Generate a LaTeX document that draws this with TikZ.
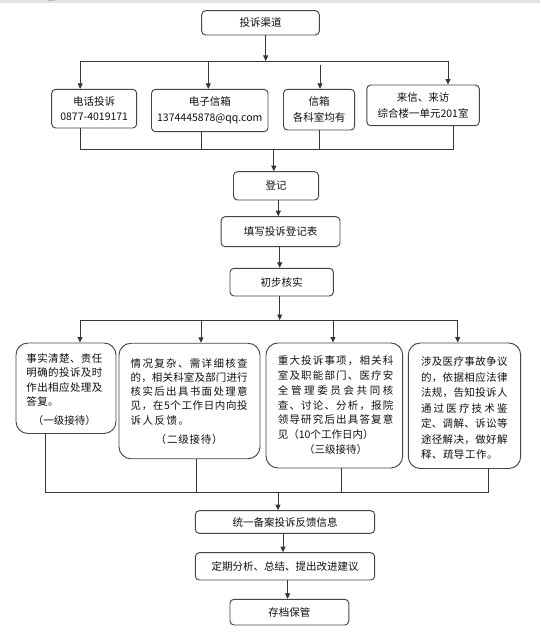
\documentclass[tikz,border=0pt]{standalone}
\usepackage{fontspec}
\setmainfont{Noto Sans CJK SC}
\usetikzlibrary{arrows.meta}
\makeatletter
\newcommand\spr[2]{\hbox to #1{\@tfor\sprx:=#2\do{\sprx\hfil}\unskip}}
\newcommand\lsp[2]{\hbox{\@tfor\sprx:=#2\do{\sprx\kern#1}\unkern}}
\newcommand\stk[2]{\vbox{\baselineskip=#1\lineskiplimit=-20pt\lineskip=0pt #2}}
\makeatother
\definecolor{bd}{HTML}{454545}
\definecolor{lnc}{HTML}{363636}
\definecolor{txc}{HTML}{101010}
\tikzset{
  box/.style={draw=bd, line width=0.95pt, rounded corners=4pt, inner sep=0pt, text=txc,
    font=\fontsize{10.5}{15.7}\selectfont, align=center},
  bigbox/.style={draw=bd, line width=0.95pt, rounded corners=12pt, inner sep=0pt},
  blk/.style={inner sep=0pt, anchor=north west, text=txc, font=\fontsize{10.5}{12}\selectfont},
  lnk/.style={draw=lnc, line width=0.8pt},
  arr/.style={draw=lnc, line width=0.8pt, -{Triangle[length=5.5pt,width=5pt]}}
}
\begin{document}
\begin{tikzpicture}[x=1pt,y=-1pt]
\useasboundingbox (0,0) rectangle (540,636);
\fill[white] (0,0) rectangle (540,636);
\fill[gray!22] (0,0) rectangle (540,2.7);
\fill[gray!55] (48,0) rectangle (55,1.2);

% top
\node[box, minimum width=117.6pt, minimum height=24.3pt] (qd) at (260.5,22.85) {投诉渠道};
\node[box, minimum width=85pt, minimum height=38.7pt] (ch1) at (94.2,108.65) {电话投诉\\0877-4019171};
\node[box, minimum width=116.5pt, minimum height=42.4pt] (ch2) at (209.75,110.5) {电子信箱\\1374445878@qq.com};
\node[box, minimum width=71.2pt, minimum height=40.7pt] (ch3) at (319.1,109.65) {信箱\\各科室均有};
\node[box, minimum width=112.5pt, minimum height=40.7pt] (ch4) at (423.05,105.35) {来信、来访\\综合楼一单元201室};

% flow
\node[box, minimum width=85.1pt, minimum height=28.3pt] (dj) at (276.05,185.85) {登记};
\node[box, minimum width=118.9pt, minimum height=30pt] (tx) at (280.55,231.7) {填写投诉登记表};
\node[box, minimum width=103.4pt, minimum height=27.7pt] (cb) at (281.7,282.15) {初步核实};

% big boxes
\node[bigbox, minimum width=100pt, minimum height=90.5pt] (A) at (66,388.25) {};
\node[bigbox, minimum width=141pt, minimum height=115.5pt] (B) at (189.5,401) {};
\node[bigbox, minimum width=136.7pt, minimum height=125pt] (C) at (334.35,405.5) {};
\node[bigbox, minimum width=112.4pt, minimum height=125.5pt] (D) at (464.5,405.75) {};

\node[blk] (At) at (26.2,353.3) {\stk{14.5pt}{%
 \spr{76pt}{事实清楚、责任}
 \spr{76pt}{明确的投诉及时}
 \spr{76pt}{作出相应处理及}
 \lsp{0.4pt}{答复。}
 \vskip3.8pt
 \hbox to 76pt{\hfil\lsp{0pt}{（一级接待）}\hfil}}};
\node[blk] (Bt) at (130.5,358.3) {\stk{14.2pt}{%
 \spr{117pt}{情况复杂、需详细核查}
 \spr{117pt}{的，相关科室及部门进行}
 \spr{117pt}{核实后出具书面处理意}
 \spr{117pt}{见，在5个工作日内向投}
 \lsp{1.5pt}{诉人反馈。}
 \vskip4.7pt
 \hbox to 117pt{\hfil\lsp{0.8pt}{（二级接待）}\hfil}}};
\node[blk] (Ct) at (277.7,355.7) {\stk{14.8pt}{%
 \spr{115.5pt}{重大投诉事项，相关科}
 \spr{115.5pt}{室及职能部门、医疗安}
 \spr{115.5pt}{全管理委员会共同核}
 \spr{115.5pt}{查、讨论、分析，报院}
 \spr{115.5pt}{领导研究后出具答复意}
 \lsp{0pt}{见（{10}个工作日内）}
 \hbox to 115.5pt{\hfil\lsp{0pt}{（三级接待）}\hfil}}};
\node[blk] (Dt) at (420.8,356.7) {\stk{15.5pt}{%
 \spr{86.5pt}{涉及医疗事故争议}
 \spr{86.5pt}{的，依据相应法律}
 \spr{86.5pt}{法规，告知投诉人}
 \spr{86.5pt}{通过医疗技术鉴}
 \spr{86.5pt}{定、调解、诉讼等}
 \spr{86.5pt}{途径解决，做好解}
 \lsp{0.5pt}{释、疏导工作。}}};

% bottom
\node[box, minimum width=179.4pt, minimum height=22.6pt] (ty) at (285,522) {统一备案投诉反馈信息};
\node[box, minimum width=179.4pt, minimum height=27.3pt] (dq) at (285,566.35) {定期分析、总结、提出改进建议};
\node[box, minimum width=118.8pt, minimum height=25.7pt] (cd) at (289.4,612.15) {存档保管};

% bus coordinates
\coordinate (bus1) at (0,61);
\coordinate (bus1b) at (0,65);
\coordinate (bus2) at (0,149.3);
\coordinate (bus3) at (0,320);
\coordinate (bus4) at (0,492.3);

% top fan-out
\draw[arr] ([xshift=5.2pt]qd.south) -- ([xshift=5.2pt]qd.south |- bus1);
\draw[lnk] ([xshift=-14pt]ch1.north |- bus1) -- ([xshift=24.95pt]ch4.north |- bus1);
\draw[arr] ([xshift=-14pt]ch1.north |- bus1) -- ([xshift=-14pt]ch1.north);
\draw[arr] ([xshift=-1.45pt]ch2.north |- bus1) -- ([xshift=-1.45pt]ch2.north);
\draw[arr] ([xshift=0.9pt]ch3.north |- bus1b) -- ([xshift=0.9pt]ch3.north);
\draw[arr] ([xshift=24.95pt]ch4.north |- bus1) -- ([xshift=24.95pt]ch4.north);

% fan-in
\draw[lnk] ([xshift=-14pt]ch1.south) -- ([xshift=-14pt]ch1.south |- bus2) -- ([xshift=29.95pt]ch4.south |- bus2) -- ([xshift=29.95pt]ch4.south);
\draw[lnk] ([xshift=-8.25pt]ch2.south) -- ([xshift=-8.25pt]ch2.south |- bus2);
\draw[lnk] ([xshift=0.2pt]ch3.south) -- ([xshift=0.2pt]ch3.south |- bus2);
\draw[arr] ([xshift=-2.25pt]dj.north |- bus2) -- ([xshift=-2.25pt]dj.north);

% flow
\draw[arr] ([xshift=2.25pt]dj.south) -- ([xshift=2.25pt]dj.south |- tx.north);
\draw[arr] ([xshift=-0.85pt]tx.south) -- ([xshift=-0.85pt]tx.south |- cb.north);
\draw[arr] ([xshift=-2pt]cb.south) -- ([xshift=-2pt]cb.south |- bus3);

% second fan-out
\draw[lnk] ([xshift=14pt]A.north |- bus3) -- ([xshift=-6.8pt]D.north |- bus3);
\draw[arr] ([xshift=14pt]A.north |- bus3) -- ([xshift=14pt]A.north);
\draw[arr] ([xshift=11.5pt]B.north |- bus3) -- ([xshift=11.5pt]B.north);
\draw[arr] ([xshift=-1.35pt]C.north |- bus3) -- ([xshift=-1.35pt]C.north);
\draw[arr] ([xshift=-6.8pt]D.north |- bus3) -- ([xshift=-6.8pt]D.north);

% second fan-in
\draw[lnk] ([xshift=-20.3pt]A.south) -- ([xshift=-20.3pt]A.south |- bus4) -- ([xshift=23.8pt]D.south |- bus4) -- ([xshift=23.8pt]D.south);
\draw[lnk] ([xshift=7.2pt]B.south) -- ([xshift=7.2pt]B.south |- bus4);
\draw[lnk] ([xshift=6.65pt]C.south) -- ([xshift=6.65pt]C.south |- bus4);
\draw[arr] ([xshift=-7pt]ty.north |- bus4) -- ([xshift=-7pt]ty.north);

% bottom flow
\draw[arr] ([xshift=-2pt]ty.south) -- ([xshift=-2pt]ty.south |- dq.north);
\draw[arr] ([xshift=2.6pt]dq.south) -- ([xshift=2.6pt]dq.south |- cd.north);
\end{tikzpicture}
\end{document}
